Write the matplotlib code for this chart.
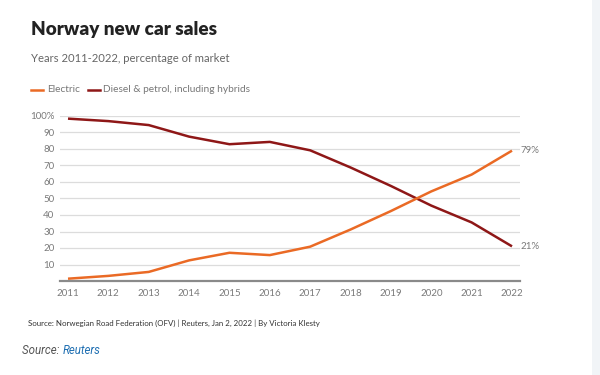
import matplotlib
matplotlib.use("Agg")
import matplotlib.pyplot as plt
from matplotlib.patches import Rectangle

years = [2011, 2012, 2013, 2014, 2015, 2016, 2017, 2018, 2019, 2020, 2021, 2022]
electric = [1.4, 3.1, 5.5, 12.5, 17.1, 15.7, 20.8, 31.2, 42.4, 54.3, 64.5, 79.0]
fossil = [98.4, 96.9, 94.5, 87.5, 82.9, 84.3, 79.2, 68.8, 57.6, 45.7, 35.5, 21.0]
yticks = [10, 20, 30, 40, 50, 60, 70, 80, 90, 100]
ytick_labels = ["10", "20", "30", "40", "50", "60", "70", "80", "90", "100%"]

W, H = 600, 375
fig = plt.figure(figsize=(6, 3.75), dpi=100)
fig.patch.set_facecolor("white")
fig.patches.append(Rectangle((592 / W, 0), 8 / W, 1, transform=fig.transFigure,
                             facecolor="#f1f4f7", edgecolor="none", zorder=0))

FONT = ["Lato", "DejaVu Sans"]
ORANGE = "#ea6a25"
DARKRED = "#8e1717"

# axes: x from 60 to 520 px, y from 281 (0) to 116 (100)
left, right = 60, 520
bottom, top = 281, 116
ax = fig.add_axes([left / W, 1 - bottom / H, (right - left) / W, (bottom - top) / H])
ax.set_facecolor("none")
step = (512 - 68) / 11
pad = (68 - left) / step
ax.set_xlim(2011 - pad, 2022 + (right - 512) / step)
ax.set_ylim(0, 100)

for y in yticks:
    ax.axhline(y, color="#dcdcdc", lw=0.9, zorder=1)
ax.axhline(0, color="#8a8a8a", lw=1.6, zorder=3, clip_on=False)

ax.plot(years, fossil, color=DARKRED, lw=1.8, zorder=4, clip_on=False, solid_capstyle="butt")
ax.plot(years, electric, color=ORANGE, lw=1.8, zorder=4, clip_on=False, solid_capstyle="butt")

for s in ax.spines.values():
    s.set_visible(False)
ax.set_yticks(yticks)
ax.set_yticklabels(ytick_labels, fontsize=7, color="#7a7a7a", family=FONT)
ax.set_xticks(years)
ax.set_xticklabels([str(y) for y in years], fontsize=7, color="#7a7a7a", family=FONT)
ax.tick_params(axis="both", length=0)
ax.tick_params(axis="y", pad=4)
ax.tick_params(axis="x", pad=6)

ax.annotate(f"{electric[-1]:.0f}%", xy=(years[-1], electric[-1]), xytext=(6, 0),
            textcoords="offset points", va="center", ha="left", fontsize=7,
            color="#7a7a7a", family=FONT, annotation_clip=False)
ax.annotate(f"{fossil[-1]:.0f}%", xy=(years[-1], fossil[-1]), xytext=(6, 0),
            textcoords="offset points", va="center", ha="left", fontsize=7,
            color="#7a7a7a", family=FONT, annotation_clip=False)

def fx(px):
    return px / W

def fy(py):
    return 1 - py / H

fig.text(fx(31), fy(30), "Norway new car sales", fontsize=13.6, fontweight="heavy",
         color="#222222", family=FONT, va="center", ha="left")
fig.text(fx(31), fy(59), "Years 2011-2022, percentage of market", fontsize=8.1,
         color="#666666", family=FONT, va="center", ha="left")

# legend
ly = fy(90)
fig.add_artist(plt.Line2D([fx(31), fx(43)], [ly, ly], color=ORANGE, lw=1.8,
                          transform=fig.transFigure))
fig.text(fx(47), ly, "Electric", fontsize=7.3, color="#777777", family=FONT,
         va="center", ha="left")
fig.add_artist(plt.Line2D([fx(88), fx(100)], [ly, ly], color=DARKRED, lw=1.8,
                          transform=fig.transFigure))
fig.text(fx(103), ly, "Diesel & petrol, including hybrids", fontsize=7.3,
         color="#777777", family=FONT, va="center", ha="left")

fig.text(fx(28), fy(323), "Source: Norwegian Road Federation (OFV) | Reuters, Jan 2, 2022 | By Victoria Klesty",
         fontsize=5.7, color="#333333", family=FONT, va="center", ha="left")

t1 = fig.text(fx(22), fy(350), "Source: ", fontsize=8.3, color="#555555",
              family=["Roboto", "DejaVu Sans"], style="italic", va="center", ha="left")
fig.canvas.draw()
bb = t1.get_window_extent()
fig.text(bb.x1 / (W), fy(350), "Reuters", fontsize=8.3, color="#1f6fb2",
         family=["Roboto", "DejaVu Sans"], style="italic", va="center", ha="left")

fig.savefig("out.png", dpi=100, facecolor=fig.get_facecolor())
